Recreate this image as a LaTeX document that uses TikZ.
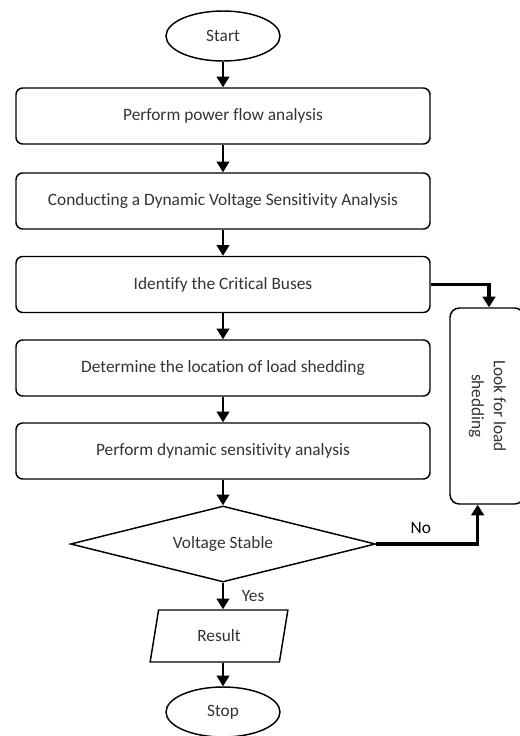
\documentclass[tikz,border=0pt]{standalone}
\usepackage{fontspec}
\setmainfont{Carlito}[Ligatures=NoCommon]
\usetikzlibrary{shapes.geometric,arrows.meta}
\definecolor{FontColor}{HTML}{333333}
\newcommand\nodepfa{Perform power flow analysis}
\newcommand\nodedvsa{Conducting a Dynamic Voltage Sensitivity Analysis}
\newcommand\nodecb{Identify the Critical Buses}
\newcommand\nodells{Determine the location of load shedding}
\newcommand\nodedsa{Perform dynamic sensitivity analysis}
\newcommand\nodevs{Voltage Stable}
\newcommand\noderes{Result}
\newcommand\nodelfl{\rotatebox{-90}{\begin{tabular}{@{}c@{}}Look for load\\[1pt]shedding\end{tabular}}}
\tikzstyle{mynodestyle} = [draw, line width=1.1pt, text=FontColor, inner sep=0pt, font=\fontsize{13pt}{15.6pt}\selectfont]
\tikzstyle{pb} = [mynodestyle, rectangle, rounded corners=5pt, minimum width=310.5pt, minimum height=42pt]
\tikzstyle{te} = [mynodestyle, ellipse, minimum width=85.5pt, minimum height=37.5pt]
\tikzstyle{db} = [mynodestyle, diamond, aspect=4, minimum width=228.75pt, minimum height=57pt]
\tikzstyle{io} = [mynodestyle, trapezium, trapezium left angle=76, trapezium right angle=104, trapezium stretches=true, minimum width=103.5pt, minimum height=39pt]
\tikzstyle{lb} = [mynodestyle, rectangle, rounded corners=7pt, minimum width=55.5pt, minimum height=147pt]
\tikzstyle{thick link} = [line width=2.4pt]
\tikzset{>={Triangle[width=9.5pt,length=8pt]}, every picture/.style={line width=1.5pt}}

\begin{document}
\begin{tikzpicture}[x=0.75pt, y=-0.75pt, font=\fontsize{13pt}{15.6pt}\selectfont]
\useasboundingbox (0,0) rectangle (519,736);
\node[te] (start) at (223, 36) {Start};
\node[pb] (pfa) at (223, 116) {\nodepfa};
\node[pb] (dvsa) at (223, 201) {\nodedvsa};
\node[pb] (cb) at (223, 284.5) {\nodecb};
\node[pb] (lls) at (223, 368) {\nodells};
\node[pb] (dsa) at (223, 451) {\nodedsa};
\node[db] (vs) at (223, 544) {\nodevs};
\node[io] (res) at (219, 636) {\noderes};
\node[te] (stop) at (223, 712) {Stop};
\node[lb] (lfl) at (487, 406) {\nodelfl};
\draw [->] (start) -- (pfa);
\draw [->] (pfa) -- (dvsa);
\draw [->] (dvsa) -- (cb);
\draw [->] (cb) -- (lls);
\draw [->] (lls) -- (dsa);
\draw [->] (dsa) -- (vs);
\draw [->] (vs) -- node[right, xshift=10pt, text=FontColor] {Yes} (res.north -| vs.south);
\draw [->] (res.south -| stop.north) -- (stop);
\draw [->, thick link] (cb.east) -| ([xshift=1.5pt]lfl.north);
\draw [->, thick link] (vs.east) -| node[pos=0.22, above, yshift=3pt] {No} ([xshift=-7pt]lfl.south);
\end{tikzpicture}
\end{document}
